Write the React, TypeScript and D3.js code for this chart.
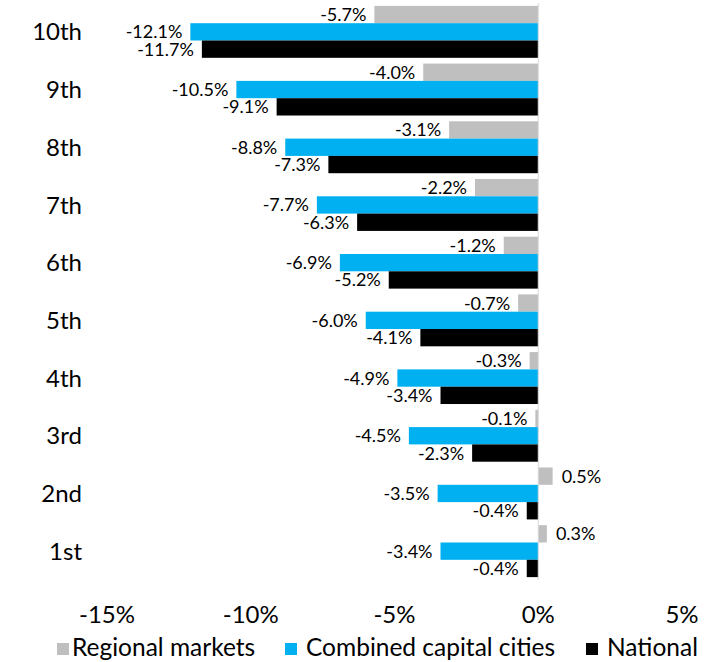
import React from "react";
import * as d3 from "d3";

const categories = ["10th", "9th", "8th", "7th", "6th", "5th", "4th", "3rd", "2nd", "1st"];
const regional = [-5.7, -4.0, -3.1, -2.2, -1.2, -0.7, -0.3, -0.1, 0.5, 0.3];
const capitals = [-12.1, -10.5, -8.8, -7.7, -6.9, -6.0, -4.9, -4.5, -3.5, -3.4];
const national = [-11.7, -9.1, -7.3, -6.3, -5.2, -4.1, -3.4, -2.3, -0.4, -0.4];
const seriesNames = ["Regional markets", "Combined capital cities", "National"];
const seriesColors = ["#bfbfbf", "#00b0f0", "#000000"];
const xTicks = [-15, -10, -5, 0, 5];

const W = 712;
const H = 662;
const FONT = "Lato, 'Open Sans', sans-serif";

export default function App() {
  const seriesValues = [regional, capitals, national];
  const x = d3.scaleLinear().domain([-15, 5]).range([107, 682]);
  const y = d3
    .scaleBand<string>()
    .domain(categories)
    .range([3, 580])
    .paddingInner(0.1)
    .paddingOuter(0.05);
  const inner = d3
    .scaleBand<string>()
    .domain(seriesNames)
    .range([0, y.bandwidth()])
    .padding(0);

  const legendSquareX = [57, 285, 586];
  const legendTextX = [72, 306, 607];

  return (
    <svg
      width={W}
      height={H}
      style={{ position: "absolute", left: 0, top: 0, fontFamily: FONT }}
    >
      <rect x={0} y={0} width={W} height={H} fill="#ffffff" />
      {categories.map((c, i) => {
        const gy = y(c)!;
        return (
          <g key={c}>
            {seriesNames.map((s, si) => {
              const v = seriesValues[si][i];
              const by = gy + inner(s)!;
              const x0 = x(Math.min(0, v));
              const x1 = x(Math.max(0, v));
              const label = v.toFixed(1) + "%";
              const cy = by + inner.bandwidth() / 2;
              return (
                <g key={s}>
                  <rect
                    x={x0}
                    y={by}
                    width={x1 - x0}
                    height={inner.bandwidth()}
                    fill={seriesColors[si]}
                  />
                  <text
                    x={v < 0 ? x0 - 8 : x1 + 9}
                    y={cy}
                    dy="0.36em"
                    textAnchor={v < 0 ? "end" : "start"}
                    fontSize={18}
                    fill="#000"
                  >
                    {label}
                  </text>
                </g>
              );
            })}
            <text
              x={82}
              y={gy + y.bandwidth() / 2}
              dy="0.36em"
              textAnchor="end"
              fontSize={24}
              fill="#000"
            >
              {c}
            </text>
          </g>
        );
      })}
      <line x1={x(0)} x2={x(0)} y1={3} y2={580} stroke="#d9d9d9" strokeWidth={1} />
      {xTicks.map((t) => (
        <text key={t} x={x(t)} y={623} textAnchor="middle" fontSize={24} fill="#000">
          {t + "%"}
        </text>
      ))}
      {seriesNames.map((s, si) => (
        <g key={s}>
          <rect x={legendSquareX[si]} y={643} width={12} height={12} fill={seriesColors[si]} />
          <text x={legendTextX[si]} y={656} fontSize={24.5} fill="#000">
            {s}
          </text>
        </g>
      ))}
    </svg>
  );
}
